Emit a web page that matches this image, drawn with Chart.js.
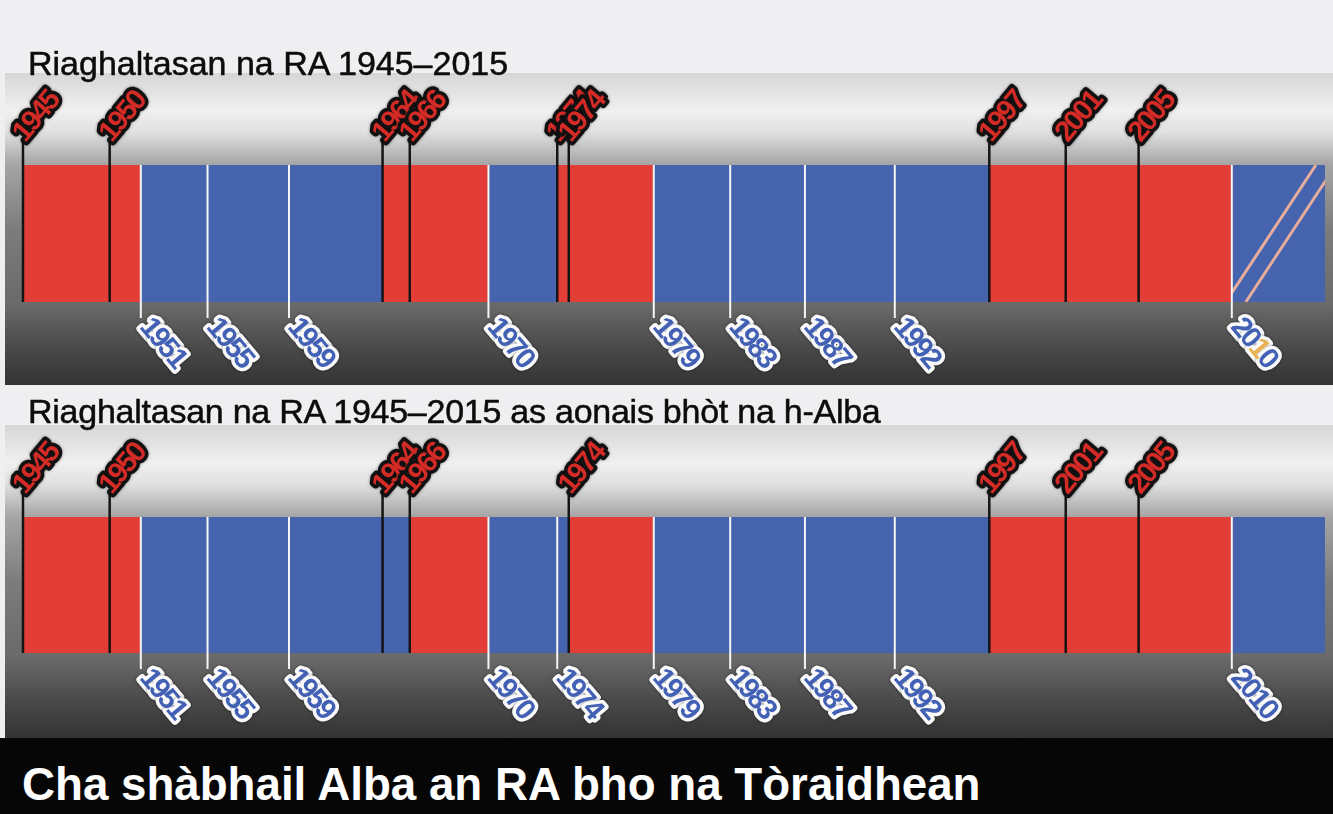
<!DOCTYPE html>
<html>
<head>
<meta charset="utf-8">
<script src="https://cdn.jsdelivr.net/npm/chart.js@4.4.1/dist/chart.umd.min.js"></script>
<style>
  body { margin: 0; width: 1333px; height: 814px; background: #efeff1; position: relative; overflow: hidden; }
  .title { position: absolute; left: 28px; z-index: 3; font: 34px "Liberation Sans", Arial, sans-serif; line-height: 34px; color: #0c0c0c; white-space: nowrap;
    -webkit-text-stroke: 0.5px #0c0c0c; }
  .backdrop { position: absolute; left: 5px; width: 1328px;
    background: linear-gradient(to bottom, #d6d6d6 0%, #f0f0f0 12%, #e0e0e0 19%, #a6a6a6 29%, #7c7c7c 50%, #6a6a6a 74%, #4a4a4a 88%, #333 100%); }
  canvas { position: absolute; left: 0; z-index: 2; }
  .banner { position: absolute; left: 0; top: 738px; width: 1333px; height: 76px; background: #060606; }
  .banner span { position: absolute; left: 22px; top: 23px; font: bold 46px "Liberation Sans", Arial, sans-serif; line-height: 46px; color: #fff; white-space: nowrap;
    transform: scaleX(0.993); transform-origin: left center; }
</style>
</head>
<body>
<div class="title" style="top:46px">Riaghaltasan na RA 1945–2015</div>
<div class="backdrop" style="top:73px;height:312px"></div>
<canvas id="uk-chart" width="1333" height="312" style="top:73px"></canvas>

<div class="title" style="top:394px; letter-spacing:-0.25px">Riaghaltasan na RA 1945–2015 as aonais bhòt na h-Alba</div>
<div class="backdrop" style="top:425px;height:313px"></div>
<canvas id="ruk-chart" width="1333" height="313" style="top:425px"></canvas>

<div class="banner"><span>Cha shàbhail Alba an RA bho na Tòraidhean</span></div>

<script>
// general elections, as fractions of a year, and the year written on the marker
const electionLabels = ['1945', '1950', '1951', '1955', '1959', '1964', '1966', '1970', '1974', '1974',
    '1979', '1983', '1987', '1992', '1997', '2001', '2005', '2010'];
const electionDates = [1945.5, 1950.15, 1951.82, 1955.4, 1959.77, 1964.79, 1966.25, 1970.47, 1974.16, 1974.78,
    1979.34, 1983.44, 1987.45, 1992.27, 1997.34, 2001.44, 2005.35, 2010.35];
const periodEnd = 2015.35;

// government formed after each election (whole UK)
const ukGovernment = ['Lab', 'Lab', 'Con', 'Con', 'Con', 'Lab', 'Lab', 'Con', 'Lab', 'Lab',
    'Con', 'Con', 'Con', 'Con', 'Lab', 'Lab', 'Lab', 'Coalition'];
const ukLabelSide = ['top', 'top', 'bottom', 'bottom', 'bottom', 'top', 'top', 'bottom', 'top', 'top',
    'bottom', 'bottom', 'bottom', 'bottom', 'top', 'top', 'top', 'bottom'];

// government without Scottish votes
const rukGovernment = ['Lab', 'Lab', 'Con', 'Con', 'Con', 'Con', 'Lab', 'Con', 'Con', 'Lab',
    'Con', 'Con', 'Con', 'Con', 'Lab', 'Lab', 'Lab', 'Con'];
const rukLabelSide = ['top', 'top', 'bottom', 'bottom', 'bottom', 'top', 'top', 'bottom', 'bottom', 'top',
    'bottom', 'bottom', 'bottom', 'bottom', 'top', 'top', 'top', 'bottom'];

const partyColours = { Lab: '#e23d36', Con: '#4663ae', Coalition: '#4663ae' };

function drawYear(ctx, text, x, y, angle, fill, stroke, accentIndex) {
    ctx.save();
    ctx.translate(x, y);
    ctx.rotate(angle);
    ctx.font = 'bold 29px "Liberation Sans", Arial, sans-serif';
    ctx.textBaseline = 'middle';
    ctx.lineJoin = 'round';
    const chars = [...text];
    const offsets = [];
    let cx = 0;
    chars.forEach(ch => { offsets.push(cx); cx += ctx.measureText(ch).width - 2.5; });
    ctx.shadowColor = 'rgba(0,0,0,0.5)';
    ctx.shadowBlur = 3;
    ctx.lineWidth = 7;
    ctx.strokeStyle = stroke;
    chars.forEach((ch, k) => ctx.strokeText(ch, offsets[k], 0));
    ctx.shadowBlur = 0;
    chars.forEach((ch, k) => {
        ctx.fillStyle = k === accentIndex ? '#e7b356' : fill;
        ctx.fillText(ch, offsets[k], 0);
    });
    ctx.restore();
}

const electionMarkers = {
    id: 'electionMarkers',
    afterDatasetsDraw(chart, args, opts) {
        const { ctx, chartArea, scales: { x } } = chart;
        const top = chartArea.top, bottom = chartArea.bottom;
        ctx.save();

        // coalition stripes
        chart.data.datasets.forEach((ds, i) => {
            if (ds.party !== 'Coalition') return;
            const bar = chart.getDatasetMeta(i).data[0];
            const left = Math.min(bar.base, bar.x), right = Math.max(bar.base, bar.x);
            ctx.save();
            ctx.beginPath();
            ctx.rect(left, top, right - left, bottom - top);
            ctx.clip();
            ctx.strokeStyle = '#e6ad9c';
            ctx.lineWidth = 3;
            [-6, 14].forEach(off => {
                ctx.beginPath();
                ctx.moveTo(left + off, bottom);
                ctx.lineTo(left + off + (bottom - top) / 1.52, top);
                ctx.stroke();
            });
            ctx.restore();
        });

        // stems
        opts.dates.forEach((d, i) => {
            const px = x.getPixelForValue(d);
            ctx.beginPath();
            if (opts.sides[i] === 'top') {
                ctx.strokeStyle = '#141414';
                ctx.lineWidth = 2.5;
                ctx.moveTo(px, top - 25);
                ctx.lineTo(px, bottom);
            } else {
                ctx.strokeStyle = '#f5f5f5';
                ctx.lineWidth = 2;
                ctx.moveTo(px, top);
                ctx.lineTo(px, bottom + 16);
            }
            ctx.stroke();
        });

        // year labels
        const ang = 50 * Math.PI / 180;
        opts.dates.forEach((d, i) => {
            const px = x.getPixelForValue(d);
            if (opts.sides[i] === 'top') {
                drawYear(ctx, opts.labels[i], px - 4, top - 27, -ang, '#d52b27', '#111', -1);
            } else {
                const accent = opts.government[i] === 'Coalition' ? 2 : -1;
                drawYear(ctx, opts.labels[i], px + 4, bottom + 20, ang, '#4361b4', '#fafafa', accent);
            }
        });
        ctx.restore();
    }
};

function makeTimeline(canvasId, government, sides, padBottom) {
    const datasets = government.map((party, i) => ({
        label: electionLabels[i],
        party: party,
        data: [[electionDates[i], i + 1 < electionDates.length ? electionDates[i + 1] : periodEnd]],
        backgroundColor: partyColours[party],
        borderWidth: 0,
        barPercentage: 1,
        categoryPercentage: 1,
        grouped: false
    }));

    return new Chart(document.getElementById(canvasId), {
        type: 'bar',
        data: { labels: [''], datasets: datasets },
        options: {
            indexAxis: 'y',
            responsive: false,
            animation: false,
            layout: { padding: { left: 23, right: 8, top: 92, bottom: padBottom } },
            scales: {
                x: { type: 'linear', min: electionDates[0], max: periodEnd, display: false },
                y: { display: false }
            },
            plugins: {
                legend: { display: false },
                tooltip: { enabled: false },
                electionMarkers: { dates: electionDates, labels: electionLabels, sides: sides, government: government }
            }
        },
        plugins: [electionMarkers]
    });
}

makeTimeline('uk-chart', ukGovernment, ukLabelSide, 83);
makeTimeline('ruk-chart', rukGovernment, rukLabelSide, 85);
</script>
</body>
</html>
